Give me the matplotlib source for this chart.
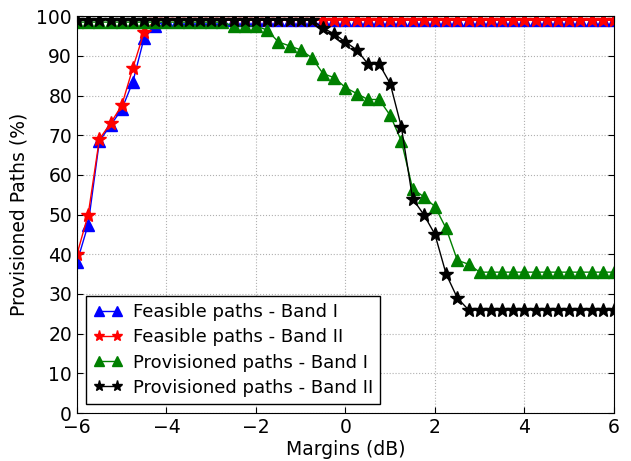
import numpy as np
import matplotlib
matplotlib.use("Agg")
import matplotlib.pyplot as plt

# margin grid in dB (0.25 dB steps)
margins = np.linspace(-6, 6, 49)

feasible_band1 = [38, 47.5, 68.5, 72.5, 76.5, 83.5, 94.5, 97.5] + [99] * 41
feasible_band2 = [40, 50, 69, 73, 77.5, 87, 96, 99] + [99] * 41
provisioned_band1 = ([98.5] * 14 +
                     [97.5, 97.5, 97.5, 96.5, 93.5, 92.5, 91.5, 89.5, 85.5, 84.5, 82,
                      80.5, 79, 79, 75, 68.5, 56.5, 54.5, 52, 46.5, 38.5, 37.5] +
                     [35.5] * 13)
provisioned_band2 = ([99] * 22 +
                     [97, 95.5, 93.5, 91.5, 88, 88, 83, 72, 54, 50, 45, 35, 29, 26] +
                     [26] * 13)

fig = plt.figure(figsize=(6.31, 4.61), dpi=100)
ax = fig.add_axes([0.122, 0.104, 0.851, 0.861])

ax.plot(margins, feasible_band1, color='b', marker='^', markersize=9, lw=1,
        label='Feasible paths - Band I')
ax.plot(margins, feasible_band2, color='r', marker='*', markersize=10, lw=1,
        label='Feasible paths - Band II')
ax.plot(margins, provisioned_band1, color='g', marker='^', markersize=9, lw=1,
        label='Provisioned paths - Band I')
ax.plot(margins, provisioned_band2, color='k', marker='*', markersize=10, lw=1,
        label='Provisioned paths - Band II')

ax.set_xlim(-6, 6)
ax.set_ylim(0, 100)
ax.set_xticks(np.arange(-6, 7, 2))
ax.set_yticks(np.arange(0, 101, 10))
ax.tick_params(direction='in', top=True, right=True, labelsize=13.5, length=4)
ax.grid(True, linestyle=':', color='#b0b0b0', linewidth=0.8)
ax.set_xlabel('Margins (dB)', fontsize=13.5, labelpad=2)
ax.set_ylabel('Provisioned Paths (%)', fontsize=13.5, labelpad=6)

ax.legend(loc='lower left', numpoints=2, fontsize=13, fancybox=False,
          framealpha=1, edgecolor='k', borderaxespad=0.5, markerscale=0.8,
          handlelength=1.6, handletextpad=0.6, labelspacing=0.4,
          borderpad=0.4)

fig.savefig('out.png', dpi=100)
